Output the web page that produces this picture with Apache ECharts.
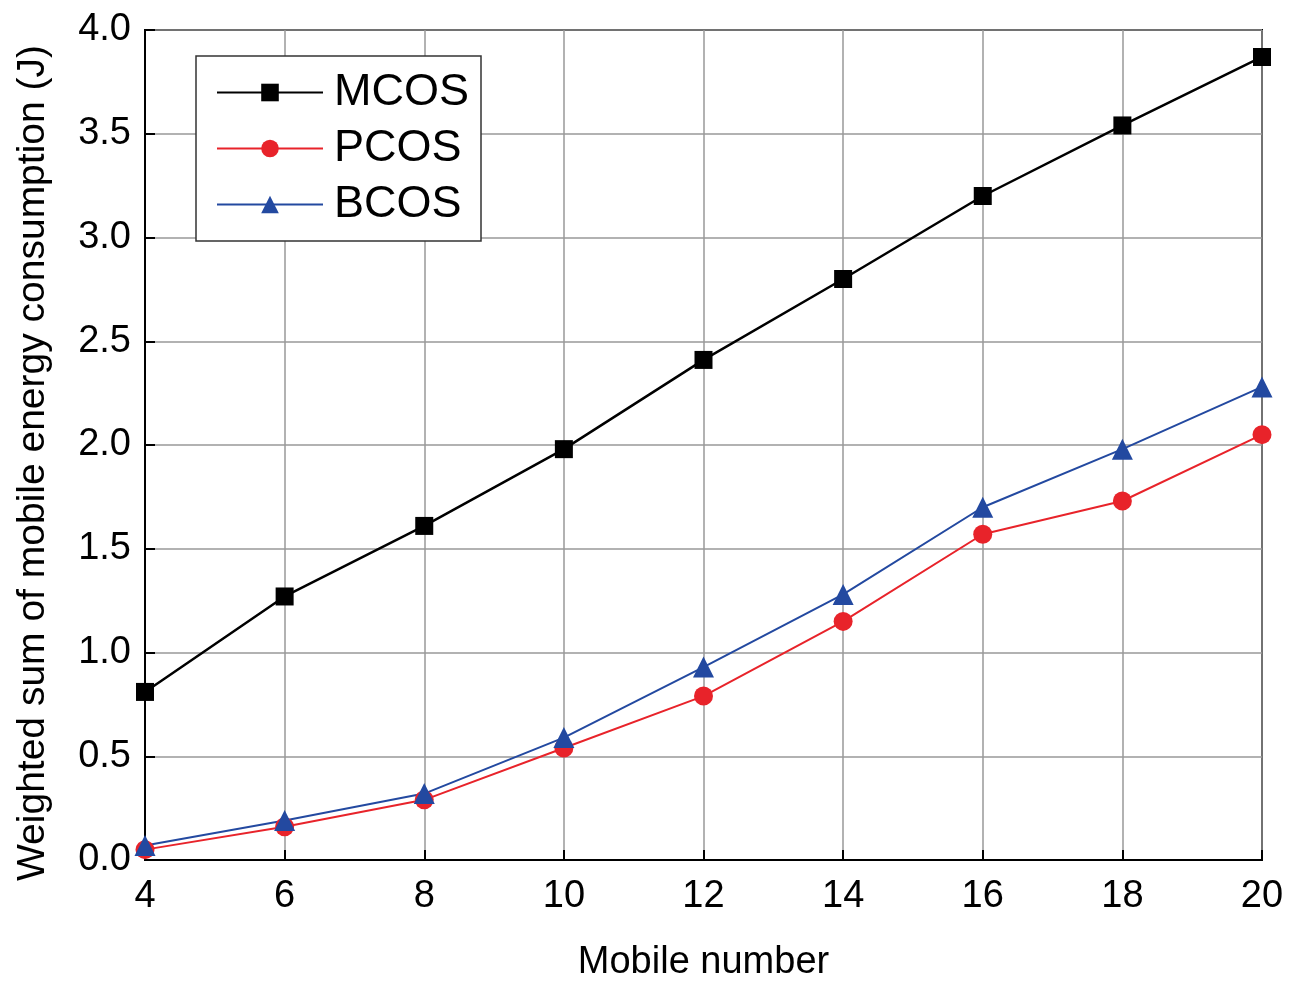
<!DOCTYPE html>
<html>
<head>
<meta charset="utf-8">
<script src="https://cdn.jsdelivr.net/npm/echarts@6/dist/echarts.min.js"></script>
<style>
  html, body { margin: 0; padding: 0; background: #fff; }
  #chart { width: 1299px; height: 983px; }
</style>
</head>
<body>
<div id="chart"></div>
<script>
var mobiles = [4, 6, 8, 10, 12, 14, 16, 18, 20];
var mcos = [0.81, 1.27, 1.61, 1.98, 2.41, 2.80, 3.20, 3.54, 3.87];
var pcos = [0.05, 0.16, 0.29, 0.54, 0.79, 1.15, 1.57, 1.73, 2.05];
var bcos = [0.07, 0.19, 0.32, 0.59, 0.93, 1.28, 1.70, 1.98, 2.28];

function pairs(ys) {
    return mobiles.map(function (x, i) { return [x, ys[i]]; });
}

var font = 'Liberation Sans, Arial, sans-serif';

var option = {
    animation: false,
    backgroundColor: '#fff',
    grid: {
        left: 145, right: 37, top: 30, bottom: 123,
        outerBoundsMode: 'none',
        show: true, borderColor: '#000', borderWidth: 2
    },
    legend: {
        orient: 'vertical',
        left: 196, top: 56,
        padding: [14, 12, 14, 20],
        backgroundColor: '#fff',
        borderColor: '#333', borderWidth: 1.5,
        itemWidth: 106, itemHeight: 22, itemGap: 11,
        textStyle: { fontFamily: font, fontSize: 45, color: '#000', padding: [0, 0, 0, 6] },
        data: ['MCOS', 'PCOS', 'BCOS']
    },
    xAxis: {
        type: 'value',
        min: 4, max: 20, interval: 2,
        name: 'Mobile number',
        nameLocation: 'middle', nameGap: 84,
        nameTextStyle: { fontFamily: font, fontSize: 38, color: '#000' },
        axisLine: { lineStyle: { color: '#000', width: 2 } },
        axisTick: { inside: true, length: 10, lineStyle: { color: '#000', width: 2 } },
        axisLabel: { fontFamily: font, fontSize: 38, color: '#000', margin: 18 },
        splitLine: { show: true, lineStyle: { color: '#999', width: 1.5 } }
    },
    yAxis: {
        type: 'value',
        min: 0, max: 4, interval: 0.5,
        name: 'Weighted sum of mobile energy consumption (J)',
        nameLocation: 'middle', nameGap: 92,
        nameTextStyle: { fontFamily: font, fontSize: 39, color: '#000', padding: [0, 36, 0, 0] },
        axisLine: { lineStyle: { color: '#000', width: 2 } },
        axisTick: { inside: true, length: 10, lineStyle: { color: '#000', width: 2 } },
        axisLabel: {
            fontFamily: font, fontSize: 38, color: '#000', margin: 14,
            formatter: function (v) { return v.toFixed(1); }
        },
        splitLine: { show: true, lineStyle: { color: '#999', width: 1.5 } }
    },
    series: [
        {
            name: 'MCOS', type: 'line', data: pairs(mcos),
            symbol: 'rect', symbolSize: 18,
            itemStyle: { color: '#000' },
            lineStyle: { color: '#000', width: 2.5 }
        },
        {
            name: 'PCOS', type: 'line', data: pairs(pcos),
            symbol: 'circle', symbolSize: 19,
            itemStyle: { color: '#e8232a' },
            lineStyle: { color: '#e8232a', width: 2 }
        },
        {
            name: 'BCOS', type: 'line', data: pairs(bcos),
            symbol: 'triangle', symbolSize: 21,
            itemStyle: { color: '#2349a0' },
            lineStyle: { color: '#2349a0', width: 2 }
        }
    ]
};

var myChart = echarts.init(document.getElementById('chart'));
myChart.setOption(option);
</script>
</body>
</html>
